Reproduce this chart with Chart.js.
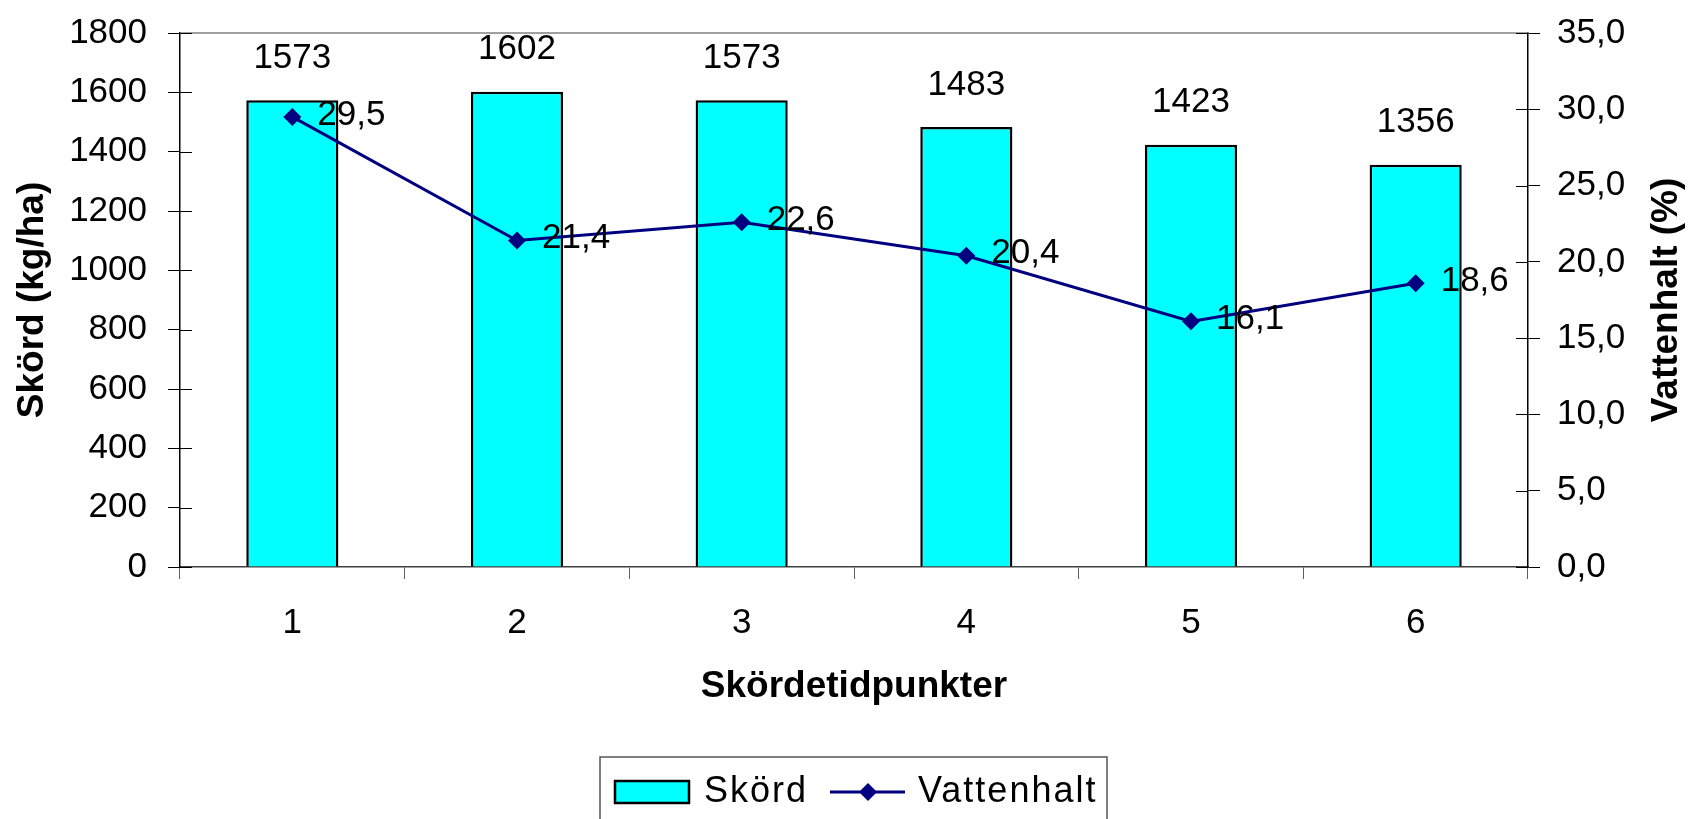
<!DOCTYPE html>
<html>
<head>
<meta charset="utf-8">
<script src="https://cdn.jsdelivr.net/npm/chart.js@4.4.1/dist/chart.umd.min.js"></script>
<style>
  html, body { margin: 0; padding: 0; background: #fff; }
  #wrap { width: 1690px; height: 819px; }
</style>
</head>
<body>
<div id="wrap"><canvas id="myChart" width="1690" height="819"></canvas></div>
<script>
const categories = ['1', '2', '3', '4', '5', '6'];
const skord = [1573, 1602, 1573, 1483, 1423, 1356];
const vattenhalt = [29.5, 21.4, 22.6, 20.4, 16.1, 18.6];

const FONT = "'Liberation Sans', Arial, sans-serif";
const comma = v => v.toFixed(1).replace('.', ',');

// extra drawing: inner tick halves, top border, value labels, right title, legend
const extras = {
    id: 'extras',
    afterDatasetsDraw(chart) {
        const ctx = chart.ctx;
        const area = chart.chartArea;
        ctx.save();

        // top border of plot area
        ctx.strokeStyle = '#808080';
        ctx.lineWidth = 1.5;
        ctx.beginPath();
        ctx.moveTo(area.left, area.top);
        ctx.lineTo(area.right, area.top);
        ctx.stroke();

        // inner halves of the y ticks
        ctx.strokeStyle = '#000';
        ctx.lineWidth = 1;
        const yl = chart.scales.y;
        yl.ticks.forEach(t => {
            const py = Math.round(yl.getPixelForValue(t.value)) + 0.5;
            ctx.beginPath();
            ctx.moveTo(area.left, py);
            ctx.lineTo(area.left + 12, py);
            ctx.stroke();
        });
        const yr = chart.scales.y1;
        yr.ticks.forEach(t => {
            const py = Math.round(yr.getPixelForValue(t.value)) + 0.5;
            ctx.beginPath();
            ctx.moveTo(area.right - 12, py);
            ctx.lineTo(area.right, py);
            ctx.stroke();
        });

        // value labels
        ctx.fillStyle = '#000';
        ctx.font = '35px ' + FONT;
        const barMeta = chart.getDatasetMeta(0);
        barMeta.data.forEach((el, i) => {
            ctx.textAlign = 'center';
            ctx.textBaseline = 'middle';
            ctx.fillText(String(skord[i]), el.x, el.y - 42);
        });
        const lineMeta = chart.getDatasetMeta(1);
        lineMeta.data.forEach((el, i) => {
            ctx.textAlign = 'left';
            ctx.textBaseline = 'middle';
            ctx.fillText(comma(vattenhalt[i]), el.x + 25, el.y - 2);
        });

        // right axis title, reading bottom to top
        ctx.font = 'bold 37px ' + FONT;
        ctx.textAlign = 'center';
        ctx.textBaseline = 'middle';
        ctx.translate(1667, (area.top + area.bottom) / 2);
        ctx.rotate(-Math.PI / 2);
        ctx.fillText('Vattenhalt (%)', 0, 0);
        ctx.restore();
    },
    afterDraw(chart) {
        const ctx = chart.ctx;
        const ds = chart.data.datasets;
        ctx.save();
        ctx.strokeStyle = '#555';
        ctx.lineWidth = 1.5;
        ctx.strokeRect(600, 757, 507, 80);

        const cy = 792;
        // bar swatch
        ctx.fillStyle = ds[0].backgroundColor;
        ctx.fillRect(615, cy - 11, 74, 22);
        ctx.strokeStyle = ds[0].borderColor;
        ctx.lineWidth = 2.5;
        ctx.strokeRect(615, cy - 11, 74, 22);

        // line swatch
        ctx.strokeStyle = ds[1].borderColor;
        ctx.lineWidth = 3;
        ctx.beginPath();
        ctx.moveTo(830, cy);
        ctx.lineTo(905, cy);
        ctx.stroke();
        ctx.fillStyle = ds[1].borderColor;
        ctx.beginPath();
        ctx.moveTo(868, cy - 9);
        ctx.lineTo(877, cy);
        ctx.lineTo(868, cy + 9);
        ctx.lineTo(859, cy);
        ctx.closePath();
        ctx.fill();

        ctx.fillStyle = '#000';
        ctx.font = '36px ' + FONT;
        ctx.letterSpacing = '2px';
        ctx.textAlign = 'left';
        ctx.textBaseline = 'middle';
        ctx.fillText(ds[0].label, 704, cy);
        ctx.fillText(ds[1].label, 918, cy);
        ctx.restore();
    }
};

// fixed box sizes so the plot area lands where the original has it
function fitY(width) {
    return function (scale) {
        scale.width = width;
        scale.paddingTop = 0;
        scale.paddingBottom = 0;
    };
}

const ctx = document.getElementById('myChart').getContext('2d');
const chart = new Chart(ctx, {
    data: {
        labels: categories,
        datasets: [{
            type: 'bar',
            label: 'Skörd',
            data: skord,
            yAxisID: 'y',
            backgroundColor: '#00FFFF',
            borderColor: '#000000',
            borderWidth: 2.5,
            categoryPercentage: 1,
            barPercentage: 0.41,
            order: 1
        }, {
            type: 'line',
            label: 'Vattenhalt',
            data: vattenhalt,
            yAxisID: 'y1',
            borderColor: '#000080',
            backgroundColor: '#000080',
            borderWidth: 3,
            tension: 0,
            fill: false,
            pointStyle: 'rectRot',
            pointRadius: 9,
            pointHoverRadius: 9,
            pointBorderWidth: 0,
            order: 0
        }]
    },
    options: {
        responsive: false,
        animation: false,
        layout: {
            padding: { top: 33, left: 0, right: 0, bottom: 99 }
        },
        plugins: {
            legend: { display: false },
            tooltip: { enabled: false },
            title: { display: false }
        },
        scales: {
            x: {
                type: 'category',
                offset: true,
                grid: {
                    offset: true,
                    drawOnChartArea: false,
                    tickLength: 12,
                    color: '#606060'
                },
                border: { color: '#404040', width: 1.5 },
                ticks: {
                    color: '#000',
                    font: { family: FONT, size: 35 },
                    padding: 23
                },
                title: {
                    display: true,
                    text: 'Skördetidpunkter',
                    color: '#000',
                    font: { family: FONT, size: 37, weight: 'bold' },
                    padding: { top: 0, bottom: 11 }
                },
                afterFit(scale) { scale.height = 153; }
            },
            y: {
                position: 'left',
                min: 0,
                max: 1800,
                grid: {
                    drawOnChartArea: false,
                    tickLength: 12,
                    color: '#000'
                },
                border: { color: '#000', width: 1.5 },
                ticks: {
                    stepSize: 200,
                    color: '#000',
                    font: { family: FONT, size: 35 },
                    padding: 21,
                    callback: function (value) {
                        return String(value);
                    }
                },
                title: {
                    display: true,
                    text: 'Skörd (kg/ha)',
                    color: '#000',
                    font: { family: FONT, size: 37, weight: 'bold' },
                    padding: { top: 11, bottom: 0 }
                },
                afterFit: fitY(180)
            },
            y1: {
                position: 'right',
                min: 0,
                max: 35,
                grid: {
                    drawOnChartArea: false,
                    tickLength: 12,
                    color: '#000'
                },
                border: { color: '#000', width: 1.5 },
                ticks: {
                    stepSize: 5,
                    color: '#000',
                    font: { family: FONT, size: 35 },
                    padding: 17,
                    callback: function (value) {
                        return comma(value);
                    }
                },
                afterFit: fitY(162)
            }
        }
    },
    plugins: [extras]
});
</script>
</body>
</html>
